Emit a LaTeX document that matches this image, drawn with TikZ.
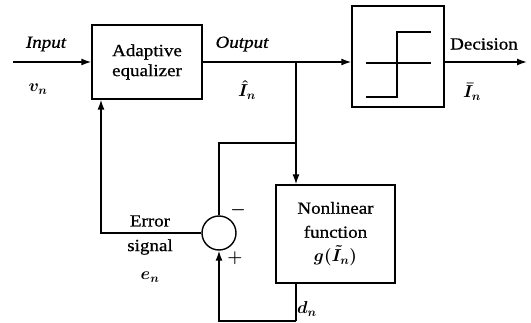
\documentclass[tikz,border=0pt]{standalone}
\usepackage{fontspec}
\setmainfont{Liberation Serif}[FakeStretch=1.12,FakeBold=0.8]
\usepackage{tikz}
\usetikzlibrary{arrows.meta,positioning}

\begin{document}
\begin{tikzpicture}[x=1pt,y=-1pt,
  every node/.style={font=\fontsize{17}{20}\selectfont\boldmath},
  block/.style={draw,line width=1.4pt,align=center,inner sep=0pt},
  sumnode/.style={draw,circle,line width=1.4pt,minimum size=34pt,inner sep=0pt},
  wire/.style={line width=1.4pt},
  arr/.style={wire,-{Latex[length=10pt,width=7pt]}},
  lbl/.style={inner sep=1pt}
]
  \useasboundingbox (0,0) rectangle (531,323);

  % blocks
  \node[block,minimum width=110pt,minimum height=74pt] (eq) at (147,62)
    {Adaptive\\equalizer};
  \node[block,minimum width=92pt,minimum height=101pt] (dec) at (398,56.5) {};
  \node[block,minimum width=119pt,minimum height=98pt,
    font=\fontsize{17}{24}\selectfont\boldmath] (nl) at (335.5,234)
    {Nonlinear\\function\\$g(\tilde{I}_n)$};
  \node[sumnode] (sum) at (219,233) {};

  % step curve inside the decision box
  \draw[wire] (366,63) -- (431,63);
  \draw[wire] (366,97) -- (397,97) -- (397,32) -- (431,32);

  \coordinate (in) at (13,62);
  \coordinate (out) at (527,62);
  \coordinate (branch) at (296,62);
  \coordinate (tap) at (296,143);
  \coordinate (low) at (296,321);
  \coordinate (err) at (101,233);

  % forward path
  \draw[arr] (in) -- (eq.west |- in);
  \draw[arr] (eq.east |- in) -- (dec.west |- in);
  \draw[arr] (dec.east |- out) -- (out);

  % feedback paths
  \draw[arr] (branch) -- (branch |- nl.north);
  \draw[wire] (tap) -| (sum.north);
  \draw[wire] (low |- nl.south) -- (low);
  \draw[arr] (low) -| (sum.south);
  \draw[arr] (sum.west) -- (err) -- (err |- eq.south);

  % labels
  \node[lbl] (inlbl) at (46,44) {\itshape Input};
  \node[lbl] (vlbl) at (38,89) {$v_n$};
  \node[lbl] (outlbl) at (242,44) {\itshape Output};
  \node[lbl] (ihat) at (247,90) {$\hat{I}_n$};
  \node[lbl] (declbl) at (484,44) {Decision};
  \node[lbl] (ibar) at (472,92) {$\bar{I}_n$};
  \node[lbl] (errlbl) at (150,221) {Error};
  \node[lbl] (siglbl) at (150,247) {signal};
  \node[lbl] (elbl) at (150,277) {$e_n$};
  \node[lbl] (minus) at (238,210) {$-$};
  \node[lbl] (plus) at (235,258) {$+$};
  \node[lbl] (dlbl) at (307,309) {$d_n$};
\end{tikzpicture}
\end{document}
